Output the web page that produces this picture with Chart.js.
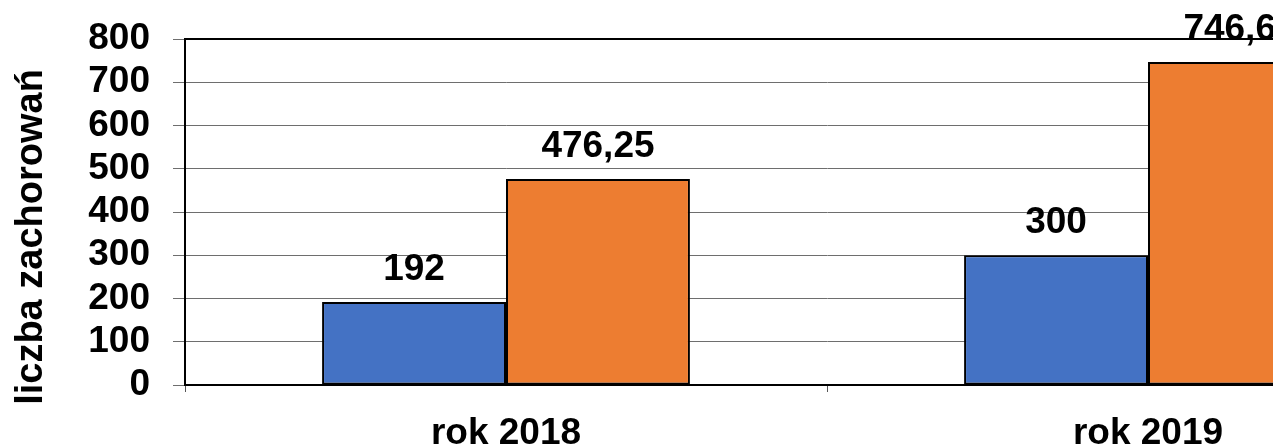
<!DOCTYPE html>
<html>
<head>
<meta charset="utf-8">
<script src="https://cdn.jsdelivr.net/npm/chart.js@4/dist/chart.umd.min.js"></script>
<style>
  html, body { margin: 0; padding: 0; overflow: hidden; background: #fff; }
  #wrap { width: 1273px; height: 445px; overflow: hidden; }
</style>
</head>
<body>
<div id="wrap"><canvas id="chart" width="1480" height="445"></canvas></div>
<script>
// dane z wykresu
const years = ["rok 2018", "rok 2019"];
const seriesBlue = [192, 300];
const seriesOrange = [476.25, 746.67];
const yTicks = [0, 100, 200, 300, 400, 500, 600, 700, 800];
const yTitle = "liczba zachorowań";

const FONT = "'Liberation Sans', Arial, sans-serif";

function fmt(v) {
  return String(v).replace(".", ",");
}

// ramka wokol obszaru wykresu
const frame = {
  id: "frame",
  afterDraw(chart) {
    const a = chart.chartArea;
    const ctx = chart.ctx;
    ctx.save();
    ctx.strokeStyle = "#000";
    ctx.lineWidth = 2;
    ctx.strokeRect(a.left, a.top, a.right - a.left, a.bottom - a.top);
    ctx.restore();
  }
};

// etykiety wartosci nad slupkami
const valueLabels = {
  id: "valueLabels",
  afterDatasetsDraw(chart) {
    const ctx = chart.ctx;
    ctx.save();
    ctx.font = "bold 37px " + FONT;
    ctx.fillStyle = "#000";
    ctx.textAlign = "center";
    ctx.textBaseline = "alphabetic";
    chart.data.datasets.forEach((ds, i) => {
      chart.getDatasetMeta(i).data.forEach((bar, j) => {
        ctx.fillText(fmt(ds.data[j]), bar.x, bar.y - 22);
      });
    });
    ctx.restore();
  }
};

// tytul osi Y
const axisTitle = {
  id: "axisTitle",
  afterDraw(chart) {
    const a = chart.chartArea;
    const ctx = chart.ctx;
    ctx.save();
    ctx.font = "bold 38px " + FONT;
    ctx.fillStyle = "#000";
    ctx.textAlign = "center";
    ctx.textBaseline = "alphabetic";
    ctx.translate(42, (a.top + a.bottom) / 2 + 25);
    ctx.rotate(-Math.PI / 2);
    ctx.fillText(yTitle, 0, 0);
    ctx.restore();
  }
};

const ctx = document.getElementById("chart").getContext("2d");
new Chart(ctx, {
  type: "bar",
  data: {
    labels: years,
    datasets: [
      {
        label: "A",
        data: seriesBlue,
        backgroundColor: "#4472C4",
        borderColor: "#000",
        borderWidth: 2,
        borderSkipped: false
      },
      {
        label: "B",
        data: seriesOrange,
        backgroundColor: "#ED7D31",
        borderColor: "#000",
        borderWidth: 2,
        borderSkipped: false
      }
    ]
  },
  options: {
    responsive: false,
    animation: false,
    layout: { padding: { top: 39, right: 11, left: 0, bottom: 0 } },
    datasets: {
      bar: { categoryPercentage: 0.573, barPercentage: 1 }
    },
    plugins: {
      legend: { display: false },
      tooltip: { enabled: false }
    },
    scales: {
      x: {
        grid: {
          offset: true,
          drawOnChartArea: false,
          tickLength: 7,
          color: "#555"
        },
        border: { color: "#000", width: 2 },
        ticks: {
          color: "#000",
          font: { family: FONT, size: 37, weight: "bold" },
          padding: 20
        },
        afterFit(scale) {
          scale.height = 60;
          scale.paddingLeft = 0;
          scale.paddingRight = 0;
        }
      },
      y: {
        min: 0,
        max: 800,
        afterBuildTicks(scale) {
          scale.ticks = yTicks.map(v => ({ value: v }));
        },
        grid: {
          color: "#6e6e6e",
          lineWidth: 1,
          tickLength: 12
        },
        border: { color: "#000", width: 2 },
        ticks: {
          color: "#000",
          autoSkip: false,
          font: { family: FONT, size: 37, weight: "bold" },
          padding: 23
        },
        afterFit(scale) {
          scale.width = 185;
          scale.paddingTop = 0;
          scale.paddingBottom = 0;
        }
      }
    }
  },
  plugins: [frame, valueLabels, axisTitle]
});
</script>
</body>
</html>
